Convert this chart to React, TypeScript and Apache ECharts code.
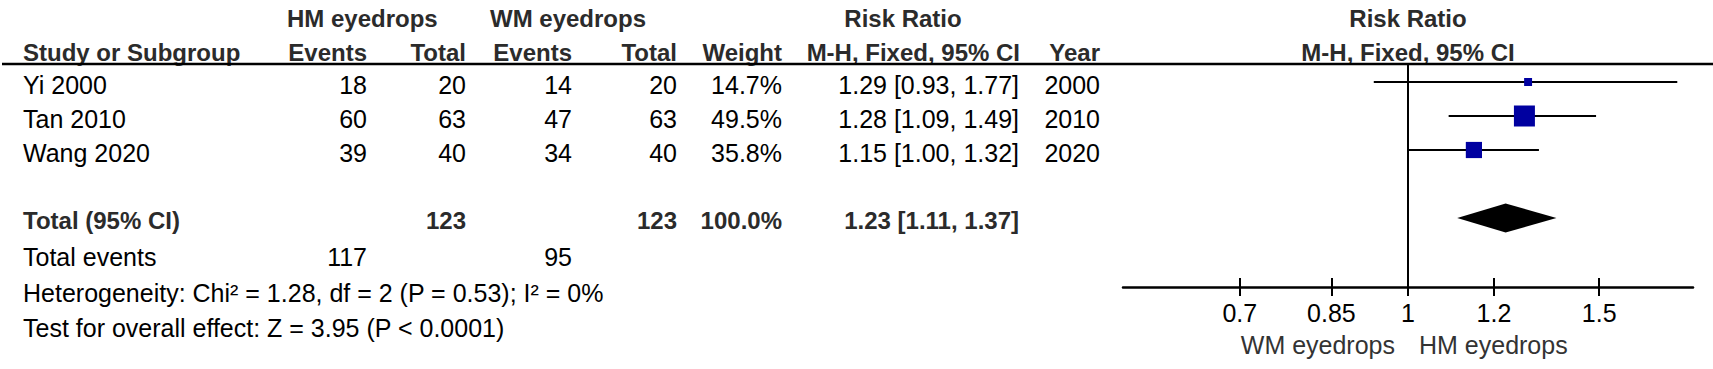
import React, { useEffect, useRef } from "react";
import * as echarts from "echarts";

// ---------- data ----------
const studies = ["Yi 2000", "Tan 2010", "Wang 2020"];
const hmEvents = [18, 60, 39];
const hmTotal = [20, 63, 40];
const wmEvents = [14, 47, 34];
const wmTotal = [20, 63, 40];
const weights = [14.7, 49.5, 35.8];
const rr = [1.29, 1.28, 1.15];
const rrLow = [0.93, 1.09, 1.0];
const rrHigh = [1.77, 1.49, 1.32];
const years = [2000, 2010, 2020];

const totalLabel = "Total (95% CI)";
const totalHm = 123;
const totalWm = 123;
const totalWeight = 100.0;
const totalRR = 1.23;
const totalLow = 1.11;
const totalHigh = 1.37;
const totalEventsHm = 117;
const totalEventsWm = 95;
const heterogeneityText = "Heterogeneity: Chi² = 1.28, df = 2 (P = 0.53); I² = 0%";
const overallText = "Test for overall effect: Z = 3.95 (P < 0.0001)";

const axisTicks = [0.7, 0.85, 1, 1.2, 1.5];
const axisMax = 1.83;
const favoursLeft = "WM eyedrops";
const favoursRight = "HM eyedrops";

// ---------- layout ----------
const FONT = '"Liberation Sans", Arial, sans-serif';
const REG = 25;
const BOLD = 24;
const HEAD_COLOR = "#2b2b2b";

const colX = {
  study: 23,
  hmEvents: 367,
  hmTotal: 466,
  wmEvents: 572,
  wmTotal: 677,
  weight: 782,
  ci: 1019,
  year: 1100,
};
const yHead1 = 18;
const yHead2 = 52;
const yLine = 64;
const rowY = (i: number) => 85 + 34 * i;
const yTotal = 220;
const yEvents = 257;
const yHet = 293;
const yTest = 328;

const gridLeft = 1123;
const gridRight = 20;
const gridTop = 64;
const gridBottomY = 287;
const rowPx = 34;
const firstRowY = 82;
const yMin = -(firstRowY - gridTop) / rowPx;
const yMax = yMin + (gridBottomY - gridTop) / rowPx;

function txt(
  text: string,
  x: number,
  y: number,
  align: "left" | "right" | "center",
  bold = false,
  color?: string
) {
  return {
    type: "text",
    x,
    y,
    silent: true,
    style: {
      text,
      fontSize: bold ? BOLD : REG,
      fontWeight: bold ? "bold" : "normal",
      fontFamily: FONT,
      fill: color || (bold ? HEAD_COLOR : "#000"),
      align,
      verticalAlign: "middle",
      textAlign: align,
      textVerticalAlign: "middle",
    },
  };
}

const fmtCI = (m: number, l: number, h: number) =>
  `${m.toFixed(2)} [${l.toFixed(2)}, ${h.toFixed(2)}]`;

export default function App() {
  const ref = useRef<HTMLDivElement>(null);

  useEffect(() => {
    if (!ref.current) return;
    const chart = echarts.init(ref.current, null, { renderer: "svg" });

    const graphics: any[] = [];
    // header rows
    graphics.push(txt("HM eyedrops", 287, yHead1, "left", true));
    graphics.push(txt("WM eyedrops", 490, yHead1, "left", true));
    graphics.push(txt("Risk Ratio", 903, yHead1, "center", true));
    graphics.push(txt("Risk Ratio", 1408, yHead1, "center", true));
    graphics.push(txt("Study or Subgroup", colX.study, yHead2, "left", true));
    graphics.push(txt("Events", colX.hmEvents, yHead2, "right", true));
    graphics.push(txt("Total", colX.hmTotal, yHead2, "right", true));
    graphics.push(txt("Events", colX.wmEvents, yHead2, "right", true));
    graphics.push(txt("Total", colX.wmTotal, yHead2, "right", true));
    graphics.push(txt("Weight", colX.weight, yHead2, "right", true));
    graphics.push(txt("M-H, Fixed, 95% CI", 1020, yHead2, "right", true));
    graphics.push(txt("Year", colX.year, yHead2, "right", true));
    graphics.push(txt("M-H, Fixed, 95% CI", 1408, yHead2, "center", true));
    graphics.push({
      type: "line",
      silent: true,
      shape: { x1: 2, y1: yLine, x2: 1713, y2: yLine },
      style: { stroke: "#000", lineWidth: 2.5 },
    });

    // study rows
    studies.forEach((s, i) => {
      const y = rowY(i);
      graphics.push(txt(s, colX.study, y, "left"));
      graphics.push(txt(String(hmEvents[i]), colX.hmEvents, y, "right"));
      graphics.push(txt(String(hmTotal[i]), colX.hmTotal, y, "right"));
      graphics.push(txt(String(wmEvents[i]), colX.wmEvents, y, "right"));
      graphics.push(txt(String(wmTotal[i]), colX.wmTotal, y, "right"));
      graphics.push(txt(weights[i].toFixed(1) + "%", colX.weight, y, "right"));
      graphics.push(txt(fmtCI(rr[i], rrLow[i], rrHigh[i]), colX.ci, y, "right"));
      graphics.push(txt(String(years[i]), colX.year, y, "right"));
    });

    // total row
    graphics.push(txt(totalLabel, colX.study, yTotal, "left", true));
    graphics.push(txt(String(totalHm), colX.hmTotal, yTotal, "right", true));
    graphics.push(txt(String(totalWm), colX.wmTotal, yTotal, "right", true));
    graphics.push(txt(totalWeight.toFixed(1) + "%", colX.weight, yTotal, "right", true));
    graphics.push(txt(fmtCI(totalRR, totalLow, totalHigh), colX.ci, yTotal, "right", true));

    graphics.push(txt("Total events", colX.study, yEvents, "left"));
    graphics.push(txt(String(totalEventsHm), colX.hmEvents, yEvents, "right"));
    graphics.push(txt(String(totalEventsWm), colX.wmEvents, yEvents, "right"));
    graphics.push(txt(heterogeneityText, colX.study, yHet, "left"));
    graphics.push(txt(overallText, colX.study, yTest, "left"));

    // favours labels
    graphics.push(txt(favoursLeft, 1395, 345, "right", false, "#333"));
    graphics.push(txt(favoursRight, 1419, 345, "left", false, "#333"));

    const lnTicks = axisTicks.map((t) => Math.log(t));
    const labelFor = (v: number) => {
      const idx = lnTicks.findIndex((t) => Math.abs(t - v) < 1e-6);
      return idx >= 0 ? String(axisTicks[idx]) : "";
    };

    const studyData = studies.map((_, i) => [
      Math.log(rr[i]),
      i,
      Math.log(rrLow[i]),
      Math.log(rrHigh[i]),
      weights[i],
    ]);
    const totalData = [[Math.log(totalRR), studies.length + 1, Math.log(totalLow), Math.log(totalHigh)]];

    const option: any = {
      animation: false,
      backgroundColor: "#fff",
      graphic: graphics,
      grid: {
        left: gridLeft,
        right: gridRight,
        top: gridTop,
        bottom: 369 - gridBottomY,
        containLabel: false,
      },
      xAxis: [
        {
          type: "value",
          min: -Math.log(axisMax),
          max: Math.log(axisMax),
          position: "bottom",
          axisLine: { show: true, onZero: false, lineStyle: { color: "#000", width: 2.5 } },
          axisTick: {
            show: true,
            length: 9,
            inside: false,
            customValues: lnTicks,
            lineStyle: { color: "#000", width: 2 },
          },
          axisLabel: {
            show: true,
            customValues: lnTicks,
            formatter: labelFor,
            margin: 13,
            fontSize: REG,
            fontFamily: FONT,
            color: "#000",
          },
          splitLine: { show: false },
        },
        {
          type: "value",
          min: -Math.log(axisMax),
          max: Math.log(axisMax),
          position: "bottom",
          axisLine: { show: false, onZero: false },
          axisTick: {
            show: true,
            length: 9,
            inside: true,
            customValues: lnTicks,
            lineStyle: { color: "#000", width: 2 },
          },
          axisLabel: { show: false },
          splitLine: { show: false },
        },
      ],
      yAxis: {
        type: "value",
        min: yMin,
        max: yMax,
        inverse: true,
        show: false,
        splitLine: { show: false },
      },
      series: [
        {
          type: "custom",
          name: "studies",
          xAxisIndex: 0,
          silent: true,
          data: studyData,
          renderItem: (params: any, api: any) => {
            const row = api.value(1);
            const c = api.coord([api.value(0), row]);
            const l = api.coord([api.value(2), row]);
            const h = api.coord([api.value(3), row]);
            const w = api.value(4);
            const s = 21 * Math.pow(w / 49.5, 0.8);
            return {
              type: "group",
              children: [
                {
                  type: "line",
                  shape: { x1: l[0], y1: l[1], x2: h[0], y2: h[1] },
                  style: { stroke: "#000", lineWidth: 2 },
                },
                {
                  type: "rect",
                  shape: { x: c[0] - s / 2, y: c[1] - s / 2, width: s, height: s },
                  style: { fill: "#0000a0" },
                },
              ],
            };
          },
          markLine: {
            silent: true,
            symbol: "none",
            label: { show: false },
            lineStyle: { color: "#000", width: 2, type: "solid" },
            data: [{ xAxis: 0 }],
          },
        },
        {
          type: "custom",
          name: "total",
          xAxisIndex: 0,
          silent: true,
          data: totalData,
          renderItem: (params: any, api: any) => {
            const row = api.value(1);
            const c = api.coord([api.value(0), row]);
            const l = api.coord([api.value(2), row]);
            const h = api.coord([api.value(3), row]);
            const hh = 14.5;
            return {
              type: "polygon",
              shape: {
                points: [
                  [l[0], c[1]],
                  [c[0], c[1] - hh],
                  [h[0], c[1]],
                  [c[0], c[1] + hh],
                ],
              },
              style: { fill: "#000" },
            };
          },
        },
      ],
    };

    chart.setOption(option);
    return () => chart.dispose();
  }, []);

  return (
    <div
      ref={ref}
      style={{ position: "fixed", left: 0, top: 0, width: 1713, height: 369, background: "#fff" }}
    />
  );
}
